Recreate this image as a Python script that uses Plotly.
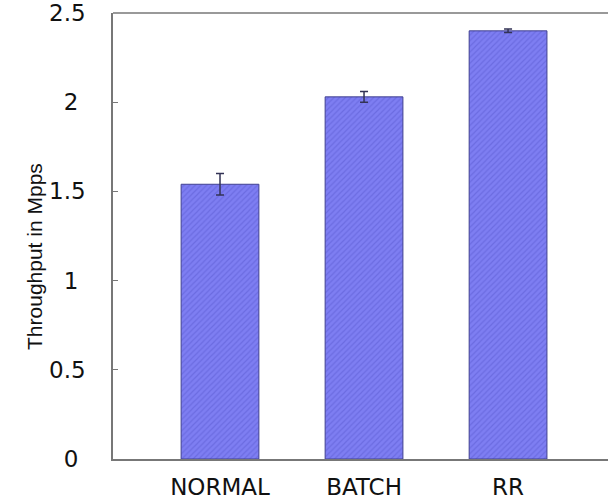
import plotly.graph_objects as go

categories = ["NORMAL", "BATCH", "RR"]
throughput = [1.54, 2.03, 2.40]
errors = [0.06, 0.03, 0.01]
y_ticks = [0, 0.5, 1, 1.5, 2, 2.5]
y_tick_labels = ["0\u2008", "0.5", "1\u2008", "1.5", "2\u2008", "2.5"]
y_title = "Throughput in Mpps"

fig = go.Figure(go.Bar(
    x=categories, y=throughput, width=0.54,
    marker=dict(color="#7e7ef2", line=dict(color="#404090", width=1),
                pattern=dict(shape="/", fgcolor="#5a5ad0", size=4, solidity=0.3)),
    error_y=dict(type="data", array=errors, color="#333355", thickness=1.5, width=4),
))

fig.update_layout(
    width=608, height=501,
    margin=dict(l=113, r=0, t=13, b=42),
    plot_bgcolor="white", paper_bgcolor="white",
    showlegend=False,
    font=dict(family="DejaVu Sans", color="#111111"),
    annotations=[dict(
        text=y_title, textangle=-90, xref="paper", yref="paper",
        x=0, y=0.453, xanchor="center", yanchor="middle", xshift=-78,
        showarrow=False, font=dict(family="Liberation Sans", size=21, color="#111111"),
    )],
    shapes=[dict(type="line", xref="paper", yref="paper", x0=0, x1=1.02, y0=1, y1=1,
                 line=dict(color="#777777", width=1.5))],
)
fig.update_xaxes(
    range=[-0.743, 2.694], showline=True, linecolor="#777777", linewidth=1.5,
    mirror=False, ticks="", showgrid=False, tickfont=dict(size=23),
    ticklabelstandoff=7,
)
fig.update_yaxes(
    range=[0, 2.5], tickvals=y_ticks, ticktext=y_tick_labels,
    showline=True, linecolor="#777777", linewidth=1.5, ticks="inside", ticklen=5,
    tickcolor="#777777", showgrid=False, zeroline=False, tickfont=dict(size=23),
    ticklabelstandoff=21,
)

fig.write_html(
    "out.html",
    config={"displayModeBar": False},
    post_script="document.body.style.margin='0';document.body.style.overflow='hidden';",
)
